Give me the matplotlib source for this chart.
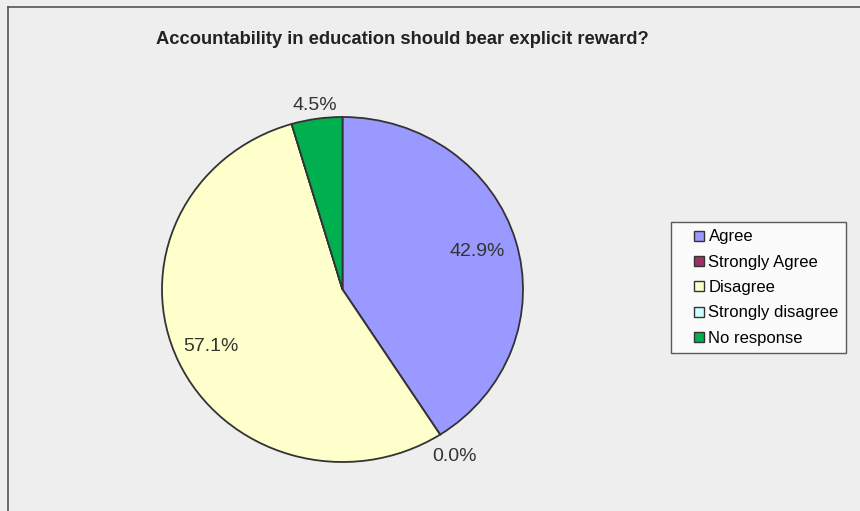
import matplotlib.pyplot as plt
import numpy as np
from matplotlib.lines import Line2D

plt.rcParams['font.family'] = ['Liberation Sans', 'DejaVu Sans']

# Data (counts give slice sizes; labels as printed on the chart)
categories = ['Agree', 'Strongly Agree', 'Disagree', 'Strongly disagree', 'No response']
counts = [9, 0, 12, 0, 1]
pct_labels = ['42.9%', '0.0%', '57.1%', '', '4.5%']
colors = ['#9999FF', '#993366', '#FFFFCC', '#CCFFFF', '#00B050']
label_dist = [0.78, 1.15, 0.80, 1.1, 1.08]

W, H = 860, 511
fig = plt.figure(figsize=(W / 100, H / 100), dpi=100)
fig.patch.set_facecolor('#EEEEEE')

# outer frame (only top and left visible)
fig.add_artist(Line2D([8 / W, 1], [1 - 7 / H, 1 - 7 / H], color='#555555', lw=1.2))
fig.add_artist(Line2D([8 / W, 8 / W], [0, 1 - 7 / H], color='#555555', lw=1.2))

fig.text(402 / W, 1 - 40 / H, 'Accountability in education should bear explicit reward?',
         ha='center', va='center', fontsize=13.2, fontweight='bold', color='#222222')

# pie axes (the pie in the original is slightly wider than tall)
cx, cy, rx, ry = 342.5, 289.5, 180.5, 172.5
ax = fig.add_axes([(cx - rx) / W, (H - cy - ry) / H, 2 * rx / W, 2 * ry / H])
ax.set_facecolor('none')
wedges, _ = ax.pie(counts, colors=colors, startangle=90, counterclock=False,
                   wedgeprops=dict(edgecolor='#333333', linewidth=1.3))
ax.set_xlim(-1, 1)
ax.set_ylim(-1, 1)
ax.set_aspect('auto')
ax.axis('off')

for w, lab, d in zip(wedges, pct_labels, label_dist):
    if not lab:
        continue
    ang = np.deg2rad((w.theta1 + w.theta2) / 2)
    ax.text(d * np.cos(ang), d * np.sin(ang), lab, ha='center', va='center',
            fontsize=14, color='#333333', clip_on=False)

handles = [Line2D([], [], linestyle='none', marker='s', markersize=6.5,
                  markerfacecolor=c, markeredgecolor='#333333', markeredgewidth=1.0)
           for c in colors]
leg = fig.legend(handles, categories, loc='upper left',
                 bbox_to_anchor=(671 / W, 1 - 222 / H), frameon=True,
                 fontsize=12, handlelength=2.5, handletextpad=-0.7,
                 labelspacing=0.62, borderpad=0.45,
                 fancybox=False, borderaxespad=0)
leg.get_frame().set_edgecolor('#333333')
leg.get_frame().set_facecolor('white')
leg.get_frame().set_linewidth(1.0)

fig.savefig('out.png', dpi=100, facecolor=fig.get_facecolor())
